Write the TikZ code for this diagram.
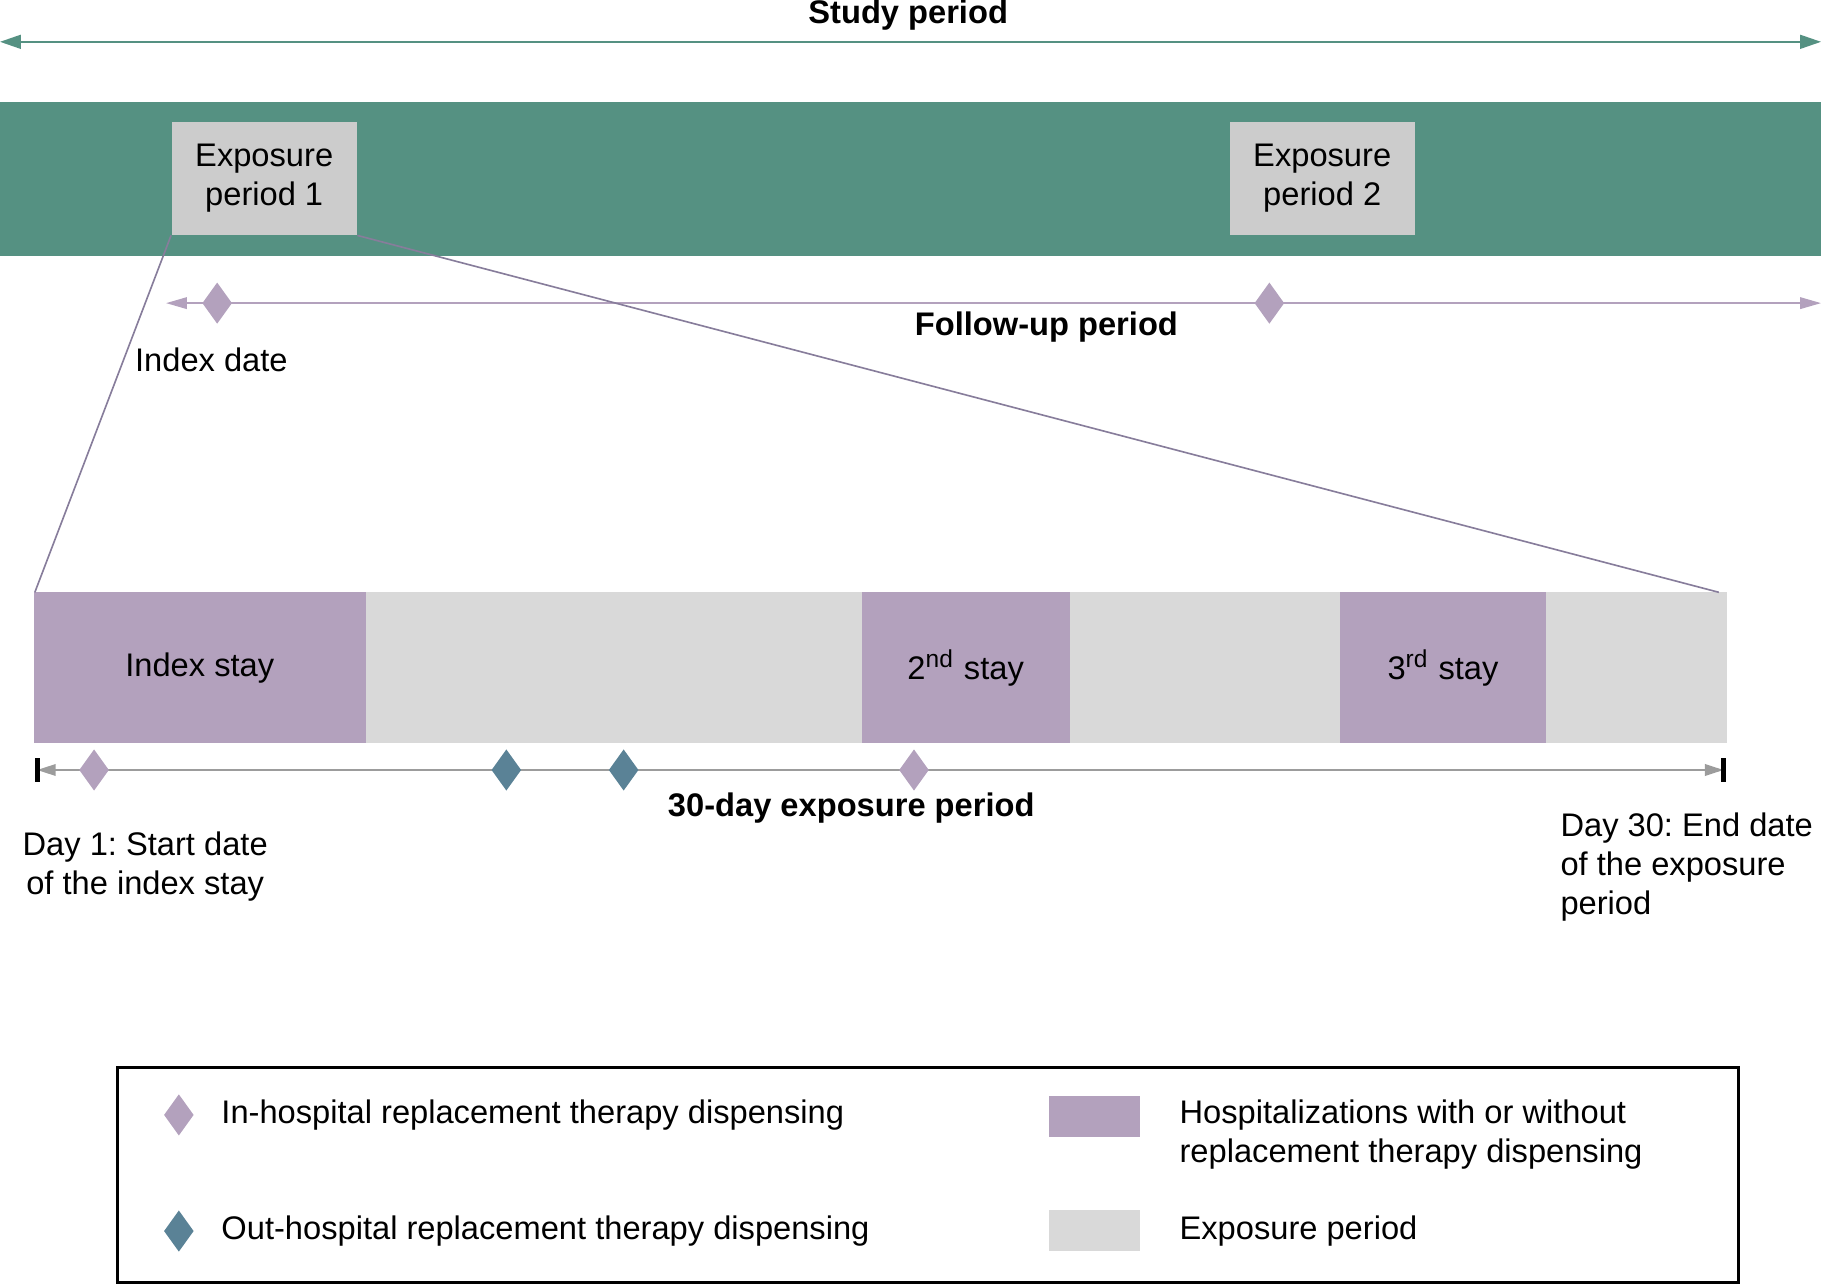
\documentclass[tikz,border=0pt]{standalone}
\usepackage{fontspec}
\setmainfont{Liberation Sans}
\frenchspacing
\usetikzlibrary{arrows.meta,shapes.geometric}
\definecolor{teal1}{RGB}{85,145,130}
\definecolor{lilac}{RGB}{179,161,189}
\definecolor{bluegr}{RGB}{90,130,150}
\definecolor{gray1}{RGB}{204,204,204}
\definecolor{gray2}{RGB}{217,217,217}
\definecolor{zoomc}{RGB}{135,125,155}
\tikzset{
  txt/.style={font=\fontsize{8.0}{9.6}\selectfont, inner sep=0pt, align=center},
  btxt/.style={txt, font=\fontsize{8.0}{9.6}\selectfont\bfseries},
  dia/.style={diamond, fill=#1, draw=none, minimum width=0.26cm, minimum height=0.36cm, inner sep=0pt, aspect=0.7},
  tip/.style={-{Triangle[length=0.16cm,width=0.12cm]}}
}
\begin{document}
\begin{tikzpicture}[y=-1cm]
    \useasboundingbox (0,0) rectangle (15.68,11.05);
    % study period
    \node[btxt] (study) at (7.82,0.13) {Study period};
    \coordinate (sl) at (0,0.36);
    \coordinate (sr) at (15.68,0.36);
    \draw[teal1, {Triangle[length=0.18cm,width=0.12cm]}-{Triangle[length=0.18cm,width=0.12cm]}] (sl) -- (sr);
    \fill[teal1] (0,0.88) rectangle (15.68,2.2);
    \node[txt, fill=gray1, minimum width=1.59cm, minimum height=0.97cm] (exp1) at (2.275,1.535) {Exposure\\period 1};
    \node[txt, fill=gray1, minimum width=1.59cm, minimum height=0.97cm] (exp2) at (11.385,1.535) {Exposure\\period 2};
    % follow-up
    \coordinate (fl) at (1.43,2.61);
    \coordinate (fr) at (15.68,2.61);
    \draw[lilac, {Triangle[length=0.18cm,width=0.1cm]}-{Triangle[length=0.18cm,width=0.1cm]}] (fl) -- (fr);
    \node[dia=lilac] (d1) at (1.87,2.61) {};
    \node[dia=lilac] (d2) at (10.93,2.61) {};
    \node[btxt] (fup) at (9.01,2.82) {Follow-up period};
    \node[txt] (idx) at (1.82,3.1) {Index date};
    % exposure bar
    \fill[gray2] (0.29,5.1) rectangle (14.87,6.4);
    \node[txt, fill=lilac, minimum width=2.86cm, minimum height=1.3cm] (s1) at (1.72,5.75) {Index stay};
    \node[txt, fill=lilac, minimum width=1.79cm, minimum height=1.3cm] (s2) at (8.315,5.75) {2\textsuperscript{nd} stay};
    \node[txt, fill=lilac, minimum width=1.77cm, minimum height=1.3cm] (s3) at (12.425,5.75) {3\textsuperscript{rd} stay};
    \coordinate (zl) at (0.3,5.1);
    \coordinate (zr) at (14.8,5.1);
    \draw[zoomc] (exp1.south west) -- (zl);
    \draw[zoomc] (exp1.south east) -- (zr);
    % 30-day
    \coordinate (tl) at (0.32,6.63);
    \coordinate (tr) at (14.84,6.63);
    \draw[gray!70!black!60, {Triangle[length=0.16cm,width=0.1cm]}-{Triangle[length=0.16cm,width=0.1cm]}] (tl) -- (tr);
    \draw[line width=1.2pt] (0.32,6.53) -- (0.32,6.73);
    \draw[line width=1.2pt] (14.84,6.53) -- (14.84,6.73);
    \node[dia=lilac] (t1) at (0.81,6.63) {};
    \node[dia=bluegr] (t2) at (4.36,6.63) {};
    \node[dia=bluegr] (t3) at (5.37,6.63) {};
    \node[dia=lilac] (t4) at (7.87,6.63) {};
    \node[btxt] (thirty) at (7.33,6.96) {30-day exposure period};
    \node[txt] (day1) at (1.25,7.46) {Day 1: Start date\\of the index stay};
    \node[txt, align=left, anchor=north west] (day30) at (13.43,6.99) {Day 30: End date\\of the exposure\\period};
    % legend
    \draw[line width=0.8pt] (1.01,9.19) rectangle (14.97,11.04);
    \node[dia=lilac] (l1) at (1.54,9.6) {};
    \node[txt, anchor=west] (l1t) at (1.9,9.6) {In-hospital replacement therapy dispensing};
    \node[dia=bluegr] (l2) at (1.54,10.6) {};
    \node[txt, anchor=west] (l2t) at (1.9,10.6) {Out-hospital replacement therapy dispensing};
    \fill[lilac] (9.03,9.44) rectangle (9.82,9.79);
    \node[txt, anchor=west, align=left] (l3t) at (10.15,9.77) {Hospitalizations with or without\\replacement therapy dispensing};
    \fill[gray2] (9.03,10.42) rectangle (9.82,10.77);
    \node[txt, anchor=west] (l4t) at (10.15,10.6) {Exposure period};
\end{tikzpicture}
\end{document}
